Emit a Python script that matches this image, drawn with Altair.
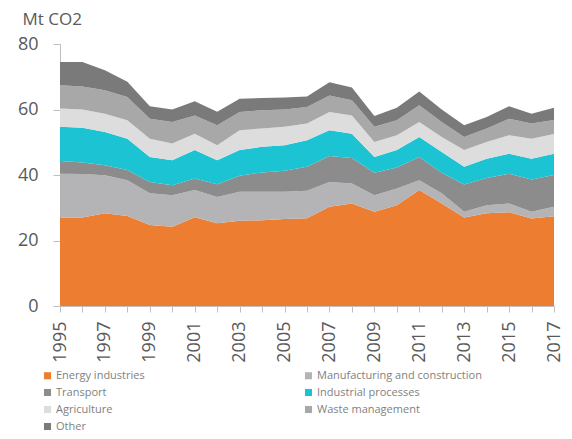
import altair as alt
import pandas as pd

years = list(range(1995, 2018))
series = ["Energy industries", "Manufacturing and construction", "Transport",
          "Industrial processes", "Agriculture", "Waste management", "Other"]
colors = ["#ED7D31", "#B4B4B7", "#8C8C8C", "#1CC3D2", "#DDDDDD", "#A8A8A8", "#7A7A7A"]

energy = [27.0, 27.0, 28.3, 27.5, 24.7, 24.2, 27.1, 25.3, 26.0, 26.2, 26.6, 26.8,
          30.3, 31.3, 28.8, 30.8, 35.4, 31.3, 27.0, 28.3, 28.6, 26.7, 27.4]
manufacturing = [13.4, 13.3, 11.6, 10.9, 9.7, 9.6, 8.3, 8.0, 8.9, 8.7, 8.3, 8.4,
                 7.6, 6.1, 5.0, 5.1, 3.0, 3.1, 1.8, 2.5, 2.7, 2.1, 2.9]
transport = [3.9, 3.5, 3.1, 3.1, 3.5, 3.1, 3.5, 3.9, 4.9, 5.9, 6.4, 7.3,
             7.9, 7.8, 6.9, 6.4, 7.1, 6.3, 8.3, 8.3, 9.1, 9.8, 9.7]
industrial = [10.4, 10.6, 10.1, 9.6, 7.6, 7.6, 8.7, 7.3, 7.8, 7.8, 7.8, 8.1,
              7.9, 7.4, 4.8, 5.3, 6.1, 6.3, 5.4, 5.9, 6.1, 6.4, 6.5]
agriculture = [5.6, 5.6, 5.6, 5.6, 5.6, 5.1, 5.0, 4.6, 6.1, 5.6, 5.6, 5.1,
               5.5, 5.6, 4.6, 4.5, 4.6, 4.6, 5.1, 5.1, 5.6, 6.1, 6.0]
waste = [7.1, 7.0, 7.2, 7.1, 6.1, 6.6, 5.6, 6.1, 5.5, 5.6, 5.3, 5.1,
         5.1, 4.6, 4.6, 4.6, 5.1, 4.6, 4.0, 4.1, 5.1, 4.6, 4.3]
other = [7.1, 7.5, 6.1, 4.7, 3.8, 3.8, 4.3, 4.1, 4.1, 3.7, 3.7, 3.2,
         4.0, 3.9, 3.3, 3.8, 4.2, 3.8, 3.6, 3.5, 3.8, 3.0, 3.7]

values = [energy, manufacturing, transport, industrial, agriculture, waste, other]
rows = []
for i, (name, vals) in enumerate(zip(series, values)):
    for y, v in zip(years, vals):
        rows.append({"year": y, "series": name, "value": v, "order": i})
df = pd.DataFrame(rows)

FONT = "Open Sans"
GRAY = "#595959"
AXIS = "#BFBFBF"

chart = alt.Chart(df).mark_area(opacity=1).encode(
    x=alt.X("year:Q",
            scale=alt.Scale(domain=[1995, 2017], nice=False, zero=False),
            axis=alt.Axis(values=years, labelExpr="datum.value % 2 == 1 ? datum.value : ''",
                          labelAngle=-90, labelFontSize=18, labelColor=GRAY, labelFont=FONT,
                          title=None, grid=False, domainColor=AXIS, tickColor=AXIS,
                          tickSize=6, labelPadding=9, labelFlush=False, labelOverlap=False)),
    y=alt.Y("value:Q", stack="zero",
            scale=alt.Scale(domain=[0, 80], nice=False),
            axis=alt.Axis(values=[0, 20, 40, 60, 80], grid=False, labelFontSize=18,
                          labelColor=GRAY, labelFont=FONT, domainColor=AXIS,
                          tickColor=AXIS, tickSize=7, labelPadding=15,
                          title="Mt CO2", titleAngle=0, titleAlign="left",
                          titleBaseline="alphabetic", titleX=-38, titleY=-20,
                          titleFontSize=17, titleFontWeight="normal", titleColor=GRAY,
                          titleFont=FONT)),
    color=alt.Color("series:N",
                    scale=alt.Scale(domain=series, range=colors),
                    sort=series,
                    legend=alt.Legend(title=None, orient="none", legendX=-18, legendY=326,
                                      direction="horizontal", columns=2, columnPadding=158,
                                      rowPadding=5, symbolType="square", symbolSize=50,
                                      symbolStrokeWidth=0, symbolOffset=0, labelOffset=3,
                                      labelFontSize=11, labelColor="#7F7F7F",
                                      labelFont=FONT, labelLimit=300)),
    order=alt.Order("order:Q", sort="ascending"),
).properties(
    width=494, height=262,
    padding={"left": 52, "top": 36, "right": 10, "bottom": 125},
    autosize=alt.AutoSizeParams(type="none"),
).configure_view(stroke=None)

chart.save("out.html", embed_options={"renderer": "svg", "actions": False})
